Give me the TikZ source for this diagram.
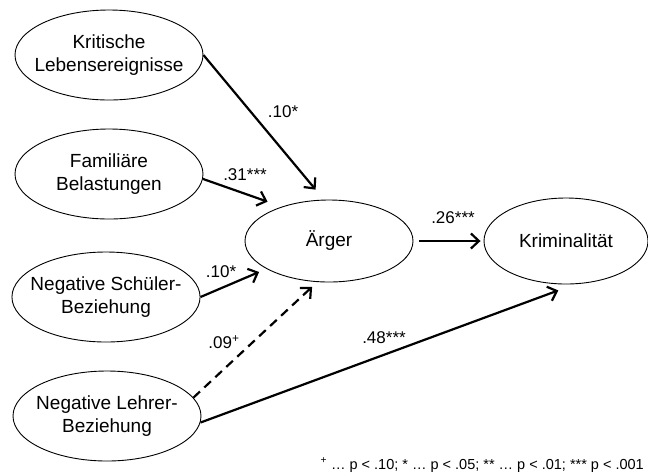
\documentclass[tikz,border=0pt]{standalone}
\usepackage{fontspec}
\setmainfont{Liberation Sans}
\usetikzlibrary{shapes.geometric,arrows.meta}

\begin{document}
\begin{tikzpicture}[x=1pt,y=-1pt]
\tikzstyle{konstrukt}=[draw,ellipse,inner xsep=-9pt,inner ysep=0pt,
  minimum width=188pt,minimum height=90pt,align=center,
  font=\fontsize{19}{23}\selectfont,line width=0.9pt]
\tikzstyle{pfad}=[line width=2.2pt,-{Straight Barb[length=8pt,width=15pt]}]
\tikzstyle{koeff}=[font=\fontsize{17}{19}\selectfont,inner sep=0pt]
\useasboundingbox (0,0) rectangle (648,475);
% Praediktoren
\node[konstrukt] (krit) at (109,55) {Kritische\\Lebensereignisse};
\node[konstrukt] (fam) at (109,174) {Familiäre\\Belastungen};
\node[konstrukt] (schueler) at (106,297) {Negative Schüler-\\Beziehung};
\node[konstrukt] (lehrer) at (107,416) {Negative Lehrer-\\Beziehung};
% Mediator und Outcome
\node[konstrukt,minimum width=168pt,minimum height=82pt] (aerger) at (329,241) {Ärger};
\node[konstrukt,minimum width=164pt,minimum height=86pt] (krim) at (566,241) {Kriminalität};
% Pfade
\draw[pfad,shorten >=13pt] (krit.east) -- (aerger.97);
\draw[pfad,shorten >=15pt] (fam.-3) -- (aerger.144);
\draw[pfad,shorten >=8pt] (schueler.east) -- (aerger.204);
\draw[pfad,dash pattern=on 9pt off 6pt,shorten >=7pt] (lehrer.12) -- (aerger.254);
\draw[pfad,shorten >=18pt] (lehrer.-4) -- (krim.282);
\draw[pfad,shorten <=6pt,shorten >=3pt] (aerger.east) -- (krim.west);
% Koeffizienten
\node[koeff] (k1) at (283,112) {.10*};
\node[koeff] (k2) at (245,175) {.31***};
\node[koeff] (k3) at (221,272) {.10*};
\node[koeff] (k4) at (224,342) {.09\textsuperscript{+}};
\node[koeff] (k5) at (384,338) {.48***};
\node[koeff] (k6) at (453,218) {.26***};
% Legende
\node[font=\fontsize{14.5}{16}\selectfont,inner sep=0pt,anchor=east] (legende) at (644,465)
  {\textsuperscript{+} … p < .10; * … p < .05; ** … p < .01; *** p < .001};
\end{tikzpicture}
\end{document}
